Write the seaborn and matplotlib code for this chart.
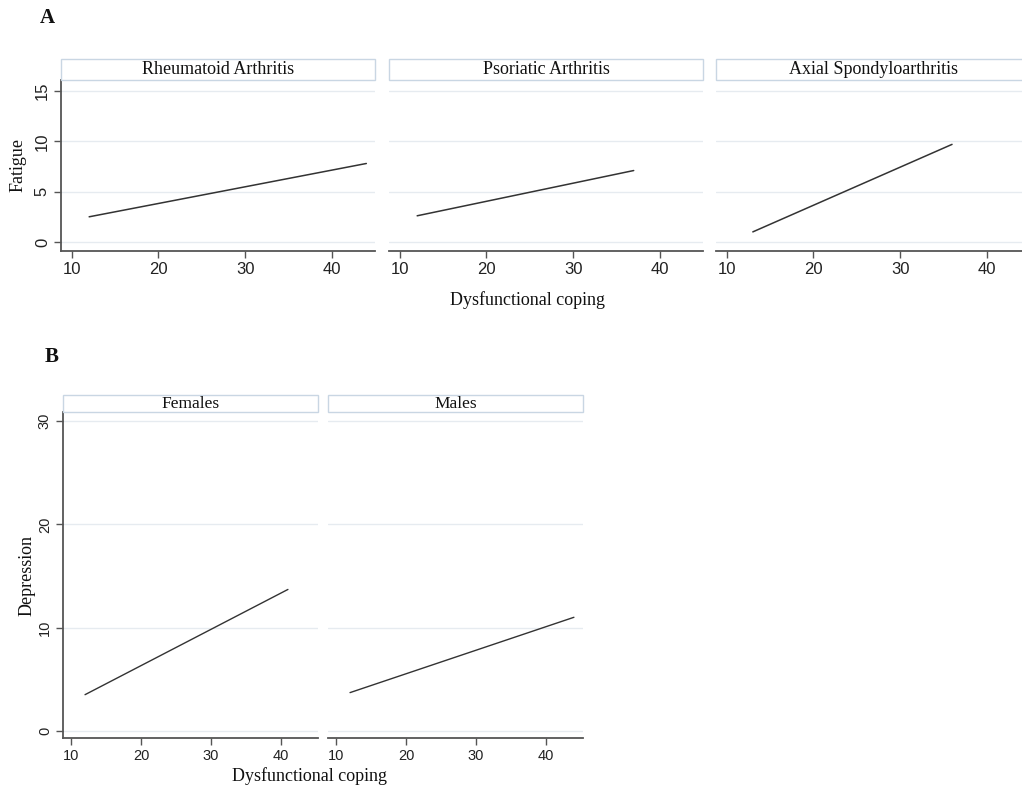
import matplotlib
matplotlib.use("Agg")
import matplotlib.pyplot as plt
import seaborn as sns
import pandas as pd
from matplotlib.patches import Rectangle

# ---- data (fitted lines: start/end points) ----
a_groups = ["Rheumatoid Arthritis", "Psoriatic Arthritis", "Axial Spondyloarthritis"]
a_x = [[12, 44], [12, 37], [13, 36]]
a_y = [[2.5, 7.8], [2.6, 7.1], [1.0, 9.7]]
a_yticks = [0, 5, 10, 15]
a_xticks = [10, 20, 30, 40]

b_groups = ["Females", "Males"]
b_x = [[12, 41], [12, 44]]
b_y = [[3.5, 13.7], [3.7, 11.0]]
b_yticks = [0, 10, 20, 30]
b_xticks = [10, 20, 30, 40]

sns.set_theme(style="white")
plt.rcParams["font.family"] = ["Liberation Sans", "DejaVu Sans"]

W, H = 1022, 789
fig = plt.figure(figsize=(W / 100, H / 100), dpi=100)

SERIF = ["Liberation Serif", "DejaVu Serif"]
GRID = "#e6ebf0"
STRIP_EDGE = "#c9d6e3"
SPINE = "#555555"
LINE = "#333333"


def px_axes(x0, y0, x1, y1):
    return fig.add_axes([x0 / W, 1 - y1 / H, (x1 - x0) / W, (y1 - y0) / H])


def strip(x0, y0, x1, y1, text, size):
    r = Rectangle((x0 / W, 1 - y1 / H), (x1 - x0) / W, (y1 - y0) / H,
                  transform=fig.transFigure, facecolor="white",
                  edgecolor=STRIP_EDGE, linewidth=1.0)
    fig.patches.append(r)
    fig.text((x0 + x1) / 2 / W, 1 - (y0 + y1) / 2 / H, text, ha="center",
             va="center", family=SERIF, fontsize=size, color="#111111")


def style_axes(ax, xlim, ylim, xticks, yticks, show_left, tsize):
    ax.set_xlim(*xlim)
    ax.set_ylim(*ylim)
    ax.set_xticks(xticks)
    ax.set_yticks(yticks)
    for s in ["top", "right"]:
        ax.spines[s].set_visible(False)
    ax.spines["bottom"].set_color(SPINE)
    ax.spines["bottom"].set_linewidth(1.3)
    ax.spines["left"].set_visible(show_left)
    ax.spines["left"].set_color(SPINE)
    ax.spines["left"].set_linewidth(1.3)
    ax.grid(axis="y", color=GRID, linewidth=1.0)
    ax.grid(axis="x", visible=False)
    ax.tick_params(axis="x", bottom=True, direction="out", length=5,
                   width=1, color=SPINE, labelsize=tsize, labelcolor="#222222", pad=3)
    if show_left:
        ax.tick_params(axis="y", left=True, direction="out", length=5,
                       width=1, color=SPINE, labelsize=tsize, labelcolor="#222222", pad=3)
        for lab in ax.get_yticklabels():
            lab.set_rotation(90)
            lab.set_va("center")
    else:
        ax.tick_params(axis="y", left=False, labelleft=False)
    ax.set_xlabel("")
    ax.set_ylabel("")
    ax.set_facecolor("white")


# ---- Panel A ----
a_left = [61, 389, 716]
a_w = 314
for i, g in enumerate(a_groups):
    x0 = a_left[i]
    ax = px_axes(x0, 80, x0 + a_w, 251)
    df = pd.DataFrame({"x": a_x[i], "y": a_y[i]})
    sns.lineplot(data=df, x="x", y="y", ax=ax, color=LINE, linewidth=1.1)
    style_axes(ax, (8.75, 45), (-0.9, 16.1), a_xticks, a_yticks, i == 0, 12)
    strip(x0, 59, x0 + a_w, 80, g, 13)

fig.text(18 / W, 1 - 165 / H, "Fatigue", rotation=90, ha="center", va="center",
         family=SERIF, fontsize=13, color="#111111")
fig.text(528 / W, 1 - 300 / H, "Dysfunctional coping", ha="center", va="center",
         family=SERIF, fontsize=13, color="#111111")
fig.text(47 / W, 1 - 18 / H, "A", ha="center", va="center", family=SERIF,
         fontsize=15, fontweight="bold", color="#111111")

# ---- Panel B ----
b_left = [63, 328]
b_w = 255
for i, g in enumerate(b_groups):
    x0 = b_left[i]
    ax = px_axes(x0, 412, x0 + b_w, 738)
    df = pd.DataFrame({"x": b_x[i], "y": b_y[i]})
    sns.lineplot(data=df, x="x", y="y", ax=ax, color=LINE, linewidth=1.0)
    style_axes(ax, (8.85, 45.3), (-0.7, 30.9), b_xticks, b_yticks, i == 0, 10.5)
    strip(x0, 395, x0 + b_w, 412, g, 12.5)

fig.text(27 / W, 1 - 575 / H, "Depression", rotation=90, ha="center", va="center",
         family=SERIF, fontsize=13, color="#111111")
fig.text(310 / W, 1 - 776 / H, "Dysfunctional coping", ha="center", va="center",
         family=SERIF, fontsize=13, color="#111111")
fig.text(52 / W, 1 - 357 / H, "B", ha="center", va="center", family=SERIF,
         fontsize=15, fontweight="bold", color="#111111")

fig.savefig("out.png", dpi=100, facecolor="white")
